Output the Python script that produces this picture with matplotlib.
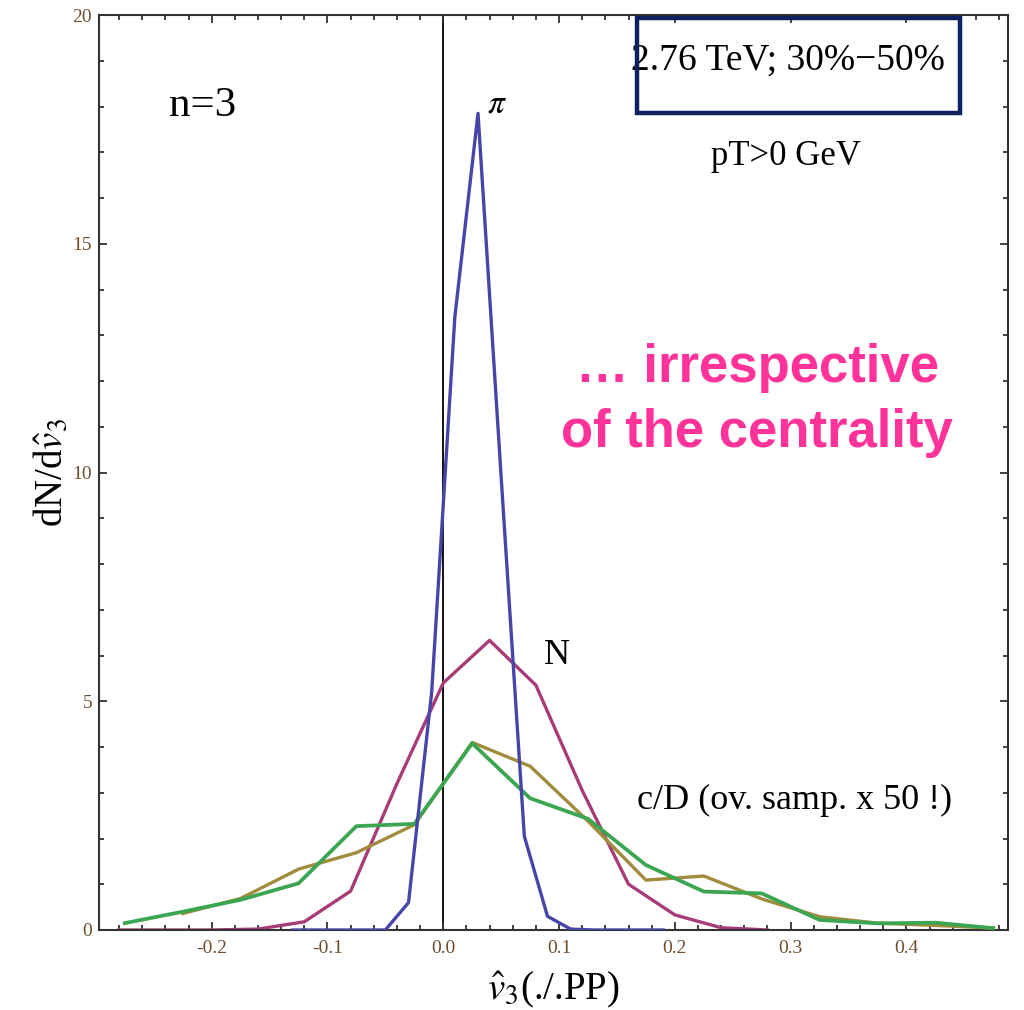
import numpy as np
import matplotlib
matplotlib.use("Agg")
import matplotlib.pyplot as plt
from matplotlib.patches import Rectangle
from matplotlib.ticker import MultipleLocator, FormatStrFormatter

plt.rcParams['font.family'] = ['Liberation Serif', 'DejaVu Serif']
plt.rcParams['mathtext.fontset'] = 'stix'
plt.rcParams['axes.unicode_minus'] = False

# pion distribution (bin width 0.02)
x_pi = [-0.13, -0.11, -0.09, -0.07, -0.05, -0.03, -0.01, 0.01, 0.03, 0.05,
        0.07, 0.09, 0.11, 0.13, 0.15, 0.17, 0.19]
y_pi = [0.0, 0.0, 0.0, 0.0, 0.0, 0.6, 5.2, 13.4, 17.85, 9.9,
        2.05, 0.3, 0.02, 0.0, 0.0, 0.0, 0.0]

# nucleon distribution (bin width 0.04)
x_N = [-0.28, -0.24, -0.20, -0.16, -0.12, -0.08, -0.04, 0.0, 0.04, 0.08,
       0.12, 0.16, 0.20, 0.24, 0.28]
y_N = [0.0, 0.0, 0.0, 0.02, 0.18, 0.85, 3.2, 5.4, 6.33, 5.35,
       3.05, 1.0, 0.33, 0.05, 0.0]

# charm (olive) and D (green) distributions (bin width 0.05)
x_c = [-0.225, -0.175, -0.125, -0.075, -0.025, 0.025, 0.075, 0.125, 0.175,
       0.225, 0.275, 0.325, 0.375, 0.425, 0.475]
y_c = [0.36, 0.69, 1.33, 1.69, 2.30, 4.10, 3.58, 2.38, 1.09,
       1.18, 0.68, 0.29, 0.15, 0.10, 0.04]

x_D = [-0.275, -0.225, -0.175, -0.125, -0.075, -0.025, 0.025, 0.075, 0.125,
       0.175, 0.225, 0.275, 0.325, 0.375, 0.425, 0.475]
y_D = [0.15, 0.40, 0.66, 1.02, 2.27, 2.32, 4.08, 2.88, 2.43,
       1.42, 0.84, 0.80, 0.22, 0.145, 0.16, 0.04]

fig = plt.figure(figsize=(10.24, 10.10), dpi=100)
ax = fig.add_axes([99 / 1024, 80 / 1010, (1008 - 99) / 1024, (930 - 15) / 1010])

ax.axvline(0.0, color='black', lw=1.3, zorder=1)

ax.plot(x_N, y_N, color='#a83c78', lw=2.4, zorder=2)
ax.plot(x_c, y_c, color='#a08c3c', lw=2.4, zorder=3)
ax.plot(x_D, y_D, color='#3ca552', lw=2.7, zorder=4)
ax.plot(x_pi, y_pi, color='#4646a8', lw=2.4, zorder=5)

ax.set_xlim(-0.2973, 0.4877)
ax.set_ylim(0, 20)

ax.xaxis.set_major_locator(MultipleLocator(0.1))
ax.xaxis.set_minor_locator(MultipleLocator(0.02))
ax.yaxis.set_major_locator(MultipleLocator(5))
ax.yaxis.set_minor_locator(MultipleLocator(1))
ax.xaxis.set_major_formatter(FormatStrFormatter('%.1f'))
ax.yaxis.set_major_formatter(FormatStrFormatter('%d'))

tick_color = '#6e4e30'
ax.tick_params(which='both', direction='in', top=True, right=True,
               colors='#333333', width=1.3, labelcolor=tick_color, labelsize=14)
ax.tick_params(which='major', length=6)
ax.tick_params(which='minor', length=3.5)
ax.tick_params(axis='x', pad=7)
ax.tick_params(axis='y', pad=5)
for sp in ax.spines.values():
    sp.set_color('#333333')
    sp.set_linewidth(1.5)

ax.set_xlabel(r'$\hat{v}_3$(./.PP)', fontsize=28, labelpad=9)
ax.set_ylabel(r'dN/d$\hat{v}_3$', fontsize=28, labelpad=1)

# curve labels and run conditions
ax.text(-0.2075, 18.02, 'n=3', fontsize=31, ha='center', va='center')
ax.text(0.0464, 18.05, r'$\pi$', fontsize=24, ha='center', va='center')
ax.text(0.098, 5.99, 'N', fontsize=26, ha='center', va='center')
ax.text(0.167, 2.84, 'c/D (ov. samp. x 50 !)', fontsize=26, ha='left', va='center')
ax.text(0.296, 16.9, 'pT>0 GeV', fontsize=25, ha='center', va='center')

ax.text(0.298, 19.0, '2.76 TeV; 30%\u221250%', fontsize=27, ha='center',
        va='center', zorder=6)
box = Rectangle((0.1673, 17.86), 0.4462 - 0.1673, 19.93 - 17.86,
                fill=False, edgecolor='#0d2160', lw=3.2, zorder=7,
                clip_on=False)
ax.add_patch(box)

pink = '#ff3399'
fig.text(757 / 1024, 1 - 368 / 1010, '\u2026 irrespective', fontsize=38,
         fontweight='bold', family='Liberation Sans', color=pink,
         ha='center', va='center')
fig.text(757 / 1024, 1 - 433 / 1010, 'of the centrality', fontsize=38,
         fontweight='bold', family='Liberation Sans', color=pink,
         ha='center', va='center')

fig.savefig('out.png', dpi=100)
